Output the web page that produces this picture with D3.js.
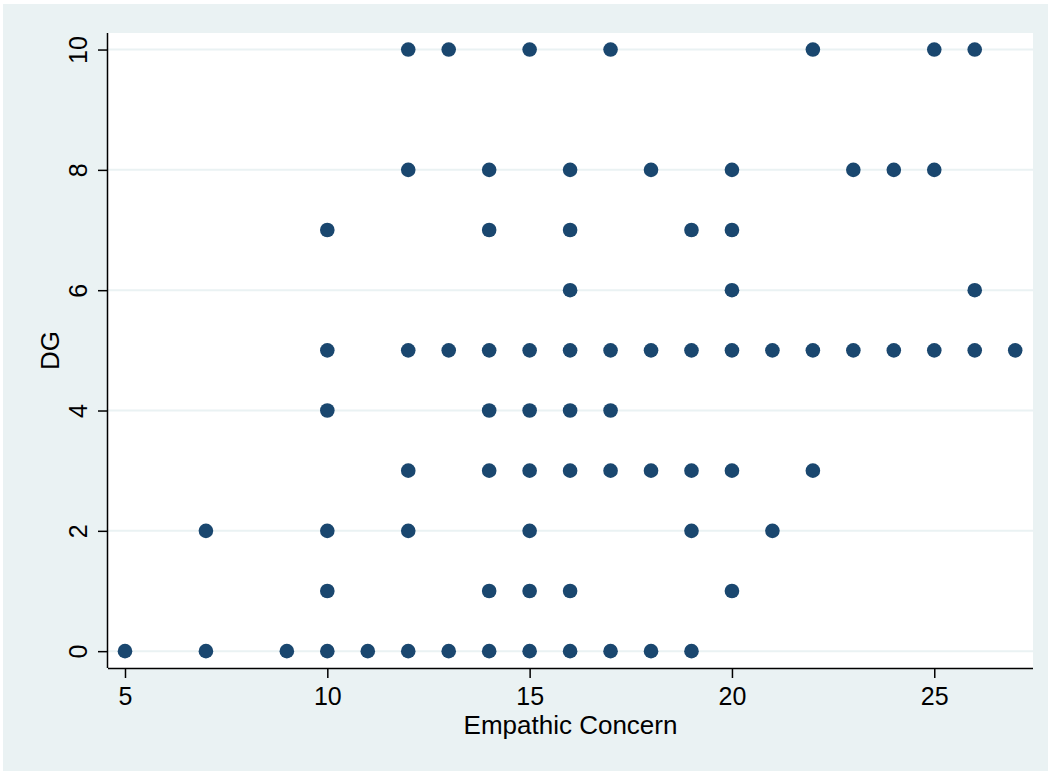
<!DOCTYPE html>
<html>
<head>
<meta charset="utf-8">
<script src="https://cdn.jsdelivr.net/npm/d3@7"></script>
<style>
  html, body { margin: 0; padding: 0; background: #ffffff; }
  svg { display: block; }
  text { font-family: "Liberation Sans", Arial, sans-serif; fill: #000; }
</style>
</head>
<body>
<svg id="chart" width="1048" height="771"></svg>
<script>
// Empathic Concern (x) vs DG (y), one entry per visible marker
const dgRow10 = [12, 13, 15, 17, 22, 25, 26];
const dgRow8  = [12, 14, 16, 18, 20, 23, 24, 25];
const dgRow7  = [10, 14, 16, 19, 20];
const dgRow6  = [16, 20, 26];
const dgRow5  = [10, 12, 13, 14, 15, 16, 17, 18, 19, 20, 21, 22, 23, 24, 25, 26, 27];
const dgRow4  = [10, 14, 15, 16, 17];
const dgRow3  = [12, 14, 15, 16, 17, 18, 19, 20, 22];
const dgRow2  = [7, 10, 12, 15, 19, 21];
const dgRow1  = [10, 14, 15, 16, 20];
const dgRow0  = [5, 7, 9, 10, 11, 12, 13, 14, 15, 16, 17, 18, 19];
const dgLevels = [10, 8, 7, 6, 5, 4, 3, 2, 1, 0];
const xTicks = [5, 10, 15, 20, 25];
const yTicks = [0, 2, 4, 6, 8, 10];
const xTitle = "Empathic Concern";
const yTitle = "DG";

const rows = [dgRow10, dgRow8, dgRow7, dgRow6, dgRow5, dgRow4, dgRow3, dgRow2, dgRow1, dgRow0];
const points = [];
rows.forEach((r, i) => r.forEach(x => points.push({ x: x, y: dgLevels[i] })));

const svg = d3.select("#chart");
const W = 1048, H = 771;
const plot = { left: 108, right: 1033, top: 33, bottom: 668 };

// outer background
svg.append("rect").attr("x", 0).attr("y", 0).attr("width", W).attr("height", H).attr("fill", "#ffffff");
svg.append("rect").attr("x", 3).attr("y", 4).attr("width", W - 3).attr("height", H - 4).attr("fill", "#eaf2f3");
// plot region
svg.append("rect").attr("x", plot.left).attr("y", plot.top)
  .attr("width", plot.right - plot.left).attr("height", plot.bottom - plot.top).attr("fill", "#ffffff");

const x = d3.scaleLinear().domain([4.58, 27.44]).range([plot.left, plot.right]);
const y = d3.scaleLinear().domain([-0.28, 10.275]).range([plot.bottom, plot.top]);

// grid lines
svg.append("g").selectAll("line").data(yTicks).join("line")
  .attr("x1", plot.left).attr("x2", plot.right)
  .attr("y1", d => y(d)).attr("y2", d => y(d))
  .attr("stroke", "#eaf2f3").attr("stroke-width", 2);

// points
svg.append("g").selectAll("circle").data(points).join("circle")
  .attr("cx", d => x(d.x)).attr("cy", d => y(d.y)).attr("r", 7.3)
  .attr("fill", "#1a476f");

// x axis
const xAxis = svg.append("g").attr("transform", `translate(0,${plot.bottom})`)
  .call(d3.axisBottom(x).tickValues(xTicks).tickSize(10).tickSizeOuter(0).tickPadding(9).tickFormat(d3.format("d")));
xAxis.select(".domain").attr("stroke", "#000").attr("stroke-width", 1.5)
  .attr("d", `M${plot.left},0.5H${plot.right}`);
xAxis.selectAll(".tick line").attr("stroke", "#000").attr("stroke-width", 1.5);
xAxis.selectAll(".tick text").attr("font-size", 25).attr("font-family", "Liberation Sans, Arial, sans-serif").attr("fill", "#000");

// y axis
const yAxis = svg.append("g").attr("transform", `translate(${plot.left},0)`)
  .call(d3.axisLeft(y).tickValues(yTicks).tickSize(10).tickSizeOuter(0).tickFormat(d3.format("d")));
yAxis.select(".domain").attr("stroke", "#000").attr("stroke-width", 1.5)
  .attr("d", `M-0.5,${plot.top}V${plot.bottom}`);
yAxis.selectAll(".tick line").attr("stroke", "#000").attr("stroke-width", 1.5);
yAxis.selectAll(".tick text")
  .attr("font-size", 25).attr("font-family", "Liberation Sans, Arial, sans-serif").attr("fill", "#000")
  .attr("x", null).attr("dy", null)
  .attr("text-anchor", "middle")
  .attr("transform", "translate(-21,0) rotate(-90)");

// axis titles
svg.append("text").attr("x", (plot.left + plot.right) / 2).attr("y", 734)
  .attr("text-anchor", "middle").attr("font-size", 26).text(xTitle);
svg.append("text").attr("transform", `translate(59,${(plot.top + plot.bottom) / 2}) rotate(-90)`)
  .attr("text-anchor", "middle").attr("font-size", 26).text(yTitle);
</script>
</body>
</html>
